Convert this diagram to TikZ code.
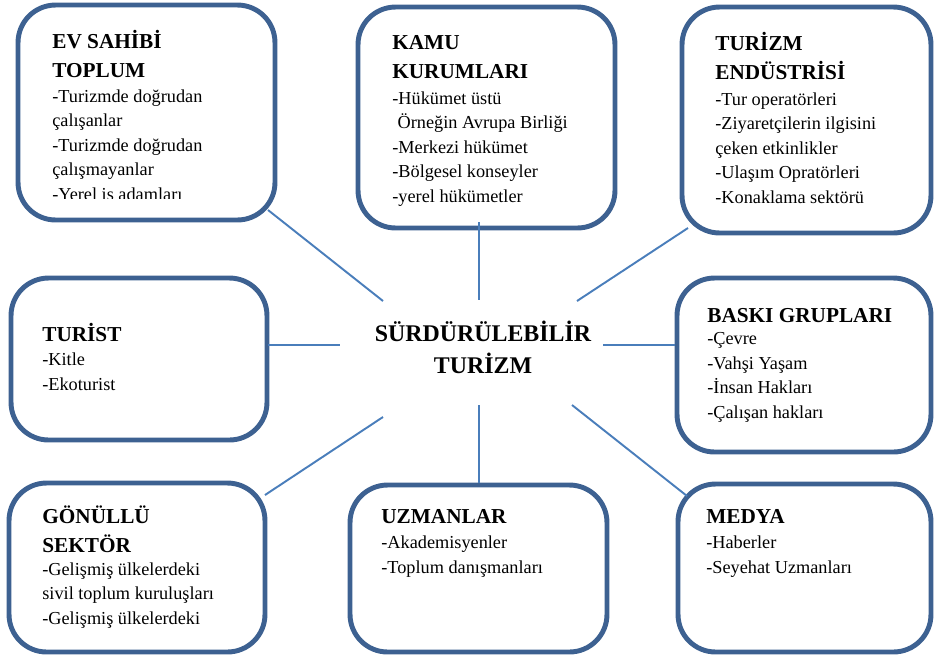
\documentclass[tikz,border=0pt]{standalone}
\usepackage{fontspec}
\setmainfont{Liberation Serif}
\usetikzlibrary{positioning}
\definecolor{boxblue}{HTML}{3D6191}
\definecolor{linkblue}{HTML}{4A7EBB}
\newcommand{\itemfont}{\fontsize{10.4}{13.9}\selectfont}
\newcommand{\headfont}{\bfseries\fontsize{12.1}{16.4}\selectfont}
\newcommand{\hubfont}{\bfseries\fontsize{13.6}{18.1}\selectfont}

\begin{document}
\begin{tikzpicture}[x=0.02cm, y=-0.02cm,
  group/.style={draw=boxblue, line width=2.8pt, rounded corners=0.75cm, fill=white, inner sep=0pt},
  head/.style={anchor=base west, align=left, inner sep=0pt, font=\headfont},
  list/.style={anchor=base west, align=left, inner sep=0pt, font=\itemfont},
  link/.style={draw=linkblue, line width=1.1pt}]
\useasboundingbox (0,0) rectangle (934,657);

% Stakeholder boxes
\node[group, minimum width=5.14cm, minimum height=4.30cm] (ev) at (146.5,112.5) {};
\node[group, minimum width=5.14cm, minimum height=4.42cm] (kamu) at (486.5,117.5) {};
\node[group, minimum width=4.98cm, minimum height=4.52cm] (endustri) at (806.5,120) {};
\node[group, minimum width=5.12cm, minimum height=3.24cm] (turist) at (139,359) {};
\node[group, minimum width=5.08cm, minimum height=3.48cm] (baski) at (804,365) {};
\node[group, minimum width=5.12cm, minimum height=3.38cm] (gonullu) at (137,567.5) {};
\node[group, minimum width=5.14cm, minimum height=3.34cm] (uzman) at (478.5,568.5) {};
\node[group, minimum width=5.06cm, minimum height=3.36cm] (medya) at (804.5,568) {};

% Titles (placed at the baseline of their last line)
\node[head] (ev-t) at (52,77) {EV SAHİBİ\\TOPLUM};
\node[head] (kamu-t) at (392,78) {KAMU\\KURUMLARI};
\node[head] (endustri-t) at (715,79) {TURİZM\\ENDÜSTRİSİ};
\node[head] (turist-t) at (42,341) {TURİST};
\node[head] (baski-t) at (707,322) {BASKI GRUPLARI};
\node[head] (gonullu-t) at (42,552) {GÖNÜLLÜ\\SEKTÖR};
\node[head] (uzman-t) at (381,523) {UZMANLAR};
\node[head] (medya-t) at (706,523) {MEDYA};

% Items
\begin{scope}
\clip (0,0) rectangle (934,198);
\node[list] (ev-l) at (52,200) {-Turizmde doğrudan\\çalışanlar\\-Turizmde doğrudan\\çalışmayanlar\\-Yerel iş adamları};
\end{scope}
\node[list] (kamu-l) at (392,202) {-Hükümet üstü\\\hspace*{3pt}Örneğin Avrupa Birliği\\-Merkezi hükümet\\-Bölgesel konseyler\\-yerel hükümetler};
\node[list] (endustri-l) at (715,203) {-Tur operatörleri\\-Ziyaretçilerin ilgisini\\çeken etkinlikler\\-Ulaşım Opratörleri\\-Konaklama sektörü};
\node[list] (turist-l) at (42,390) {-Kitle\\-Ekoturist};
\node[list] (baski-l) at (707,418) {-Çevre\\-Vahşi Yaşam\\-İnsan Hakları\\-Çalışan hakları};
\node[list] (gonullu-l) at (42,624) {-Gelişmiş ülkelerdeki\\sivil toplum kuruluşları\\-Gelişmiş ülkelerdeki};
\node[list] (uzman-l) at (381,573) {-Akademisyenler\\-Toplum danışmanları};
\node[list] (medya-l) at (706,573) {-Haberler\\-Seyehat Uzmanları};

% Centre
\node[anchor=base, align=center, inner sep=0pt, font=\hubfont] (hub) at (483,373) {SÜRDÜRÜLEBİLİR\\TURİZM};

% Connector ends
\coordinate (ev-end) at (268,210);       \coordinate (ev-hub) at (383,301);
\coordinate (kamu-end) at (479,222);     \coordinate (kamu-hub) at (479,300);
\coordinate (endustri-end) at (688,228); \coordinate (endustri-hub) at (577,301);
\coordinate (turist-end) at (268,345);   \coordinate (turist-hub) at (340,345);
\coordinate (baski-end) at (675,345);    \coordinate (baski-hub) at (603,345);
\coordinate (gonullu-end) at (265,495);  \coordinate (gonullu-hub) at (383,417);
\coordinate (uzman-end) at (479,483);    \coordinate (uzman-hub) at (479,405);
\coordinate (medya-end) at (687,496);    \coordinate (medya-hub) at (572,405);

\foreach \name in {ev,kamu,endustri,turist,baski,gonullu,uzman,medya}
  \draw[link] (\name-end) -- (\name-hub);

\end{tikzpicture}
\end{document}
